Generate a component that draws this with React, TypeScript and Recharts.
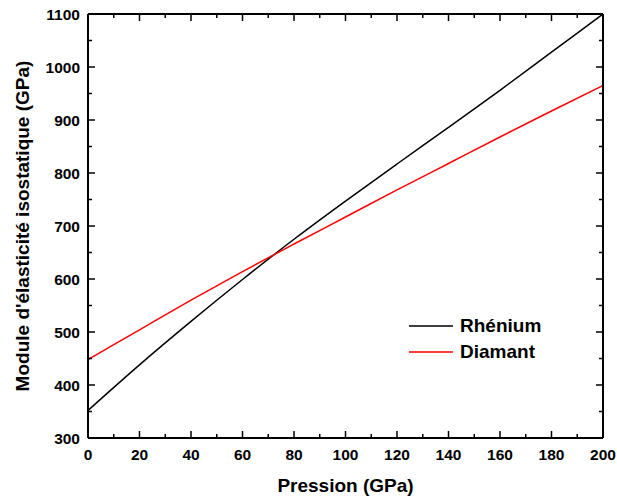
import { LineChart, Line, XAxis, YAxis, Legend } from 'recharts'

const pressure = [0, 20, 40, 60, 80, 100, 120, 140, 160, 180, 200]
const rhenium = [352, 438, 520, 599, 675, 747, 817, 886, 956, 1028, 1100]
const diamant = [448, 504, 560, 614, 666, 717, 768, 818, 868, 917, 965]
const seriesNames = ['Rhénium', 'Diamant']

const xTicks = [0, 10, 20, 30, 40, 50, 60, 70, 80, 90, 100, 110, 120, 130, 140, 150, 160, 170, 180, 190, 200]
const yTicks = [300, 350, 400, 450, 500, 550, 600, 650, 700, 750, 800, 850, 900, 950, 1000, 1050, 1100]

const data = pressure.map((p, i) => ({ p, rhenium: rhenium[i], diamant: diamant[i] }))

const FONT = '"Liberation Sans", Arial, sans-serif'
const MAJOR = 7
const MINOR = 4

const BottomTick = (props: any) => {
  const { x, y, payload } = props
  const major = payload.value % 20 === 0
  return (
    <g>
      <line x1={x} x2={x} y1={y} y2={y - (major ? MAJOR : MINOR)} stroke="#000" strokeWidth={1.5} />
      {major && (
        <text x={x} y={y + 22} textAnchor="middle" fontFamily={FONT} fontWeight="bold" fontSize={15.5} fill="#000">
          {payload.value}
        </text>
      )}
    </g>
  )
}

const LeftTick = (props: any) => {
  const { x, y, payload } = props
  const major = payload.value % 100 === 0
  return (
    <g>
      <line x1={x} x2={x + (major ? MAJOR : MINOR)} y1={y} y2={y} stroke="#000" strokeWidth={1.5} />
      {major && (
        <text x={x - 8} y={y + 5.5} textAnchor="end" fontFamily={FONT} fontWeight="bold" fontSize={15.5} fill="#000">
          {payload.value}
        </text>
      )}
    </g>
  )
}

const TopTick = (props: any) => {
  const { x, y, payload } = props
  const major = payload.value % 20 === 0
  return <line x1={x} x2={x} y1={y} y2={y + (major ? MAJOR : MINOR)} stroke="#000" strokeWidth={1.5} />
}

const RightTick = (props: any) => {
  const { x, y, payload } = props
  const major = payload.value % 100 === 0
  return <line x1={x} x2={x - (major ? MAJOR : MINOR)} y1={y} y2={y} stroke="#000" strokeWidth={1.5} />
}

const LegendBox = (props: any) => {
  const items = seriesNames
    .map((n) => (props.payload || []).find((e: any) => e.value === n))
    .filter(Boolean)
  return (
    <div style={{ fontFamily: FONT, fontWeight: 'bold', fontSize: 19 }}>
      {items.map((e: any) => (
        <div key={e.value} style={{ display: 'flex', alignItems: 'center', height: 26 }}>
          <svg width={44} height={4} style={{ marginRight: 7 }}>
            <line x1={0} x2={44} y1={2} y2={2} stroke={e.color} strokeWidth={1.5} />
          </svg>
          <span>{e.value}</span>
        </div>
      ))}
    </div>
  )
}

const axisLine = { stroke: '#000', strokeWidth: 2 }

export default function App() {
  return (
    <div style={{ position: 'absolute', left: 0, top: 0, background: '#fff' }}>
      <LineChart width={617} height={497} data={data} margin={{ top: 13, right: 13, bottom: 0, left: 0 }}>
        <XAxis
          xAxisId="b"
          dataKey="p"
          type="number"
          domain={[0, 200]}
          allowDataOverflow
          ticks={xTicks}
          interval={0}
          height={59}
          tickSize={0}
          tickMargin={0}
          tickLine={false}
          axisLine={axisLine}
          tick={(p: any) => <BottomTick {...p} />}
          label={{ value: 'Pression (GPa)', position: 'center', dy: 18, fontFamily: FONT, fontWeight: 'bold', fontSize: 19, fill: '#000' }}
        />
        <XAxis
          xAxisId="t"
          orientation="top"
          dataKey="p"
          type="number"
          domain={[0, 200]}
          allowDataOverflow
          ticks={xTicks}
          interval={0}
          height={1}
          tickSize={0}
          tickMargin={0}
          tickLine={false}
          axisLine={axisLine}
          tick={(p: any) => <TopTick {...p} />}
        />
        <YAxis
          yAxisId="l"
          type="number"
          domain={[300, 1100]}
          allowDataOverflow
          ticks={yTicks}
          interval={0}
          width={88}
          tickSize={0}
          tickMargin={0}
          tickLine={false}
          axisLine={axisLine}
          tick={(p: any) => <LeftTick {...p} />}
          label={{
            value: "Module d'élasticité isostatique (GPa)",
            position: 'center',
            angle: -90,
            dx: -22,
            fontFamily: FONT,
            fontWeight: 'bold',
            fontSize: 19,
            fill: '#000',
          }}
        />
        <YAxis
          yAxisId="r"
          orientation="right"
          type="number"
          domain={[300, 1100]}
          allowDataOverflow
          ticks={yTicks}
          interval={0}
          width={1}
          tickSize={0}
          tickMargin={0}
          tickLine={false}
          axisLine={axisLine}
          tick={(p: any) => <RightTick {...p} />}
        />
        <Legend
          layout="vertical"
          align="center"
          verticalAlign="middle"
          wrapperStyle={{ left: 409, top: 313, width: 'auto' }}
          content={(p: any) => <LegendBox {...p} />}
        />
        <Line
          xAxisId="b"
          yAxisId="l"
          type="monotone"
          dataKey="rhenium"
          name="Rhénium"
          stroke="#000"
          strokeWidth={1.5}
          dot={false}
          isAnimationActive={false}
        />
        <Line
          xAxisId="b"
          yAxisId="l"
          type="monotone"
          dataKey="diamant"
          name="Diamant"
          stroke="#ff0000"
          strokeWidth={1.5}
          dot={false}
          isAnimationActive={false}
        />
        <Line xAxisId="t" yAxisId="r" dataKey="diamant" name="hidden" stroke="none" dot={false} legendType="none" isAnimationActive={false} />
      </LineChart>
    </div>
  )
}
